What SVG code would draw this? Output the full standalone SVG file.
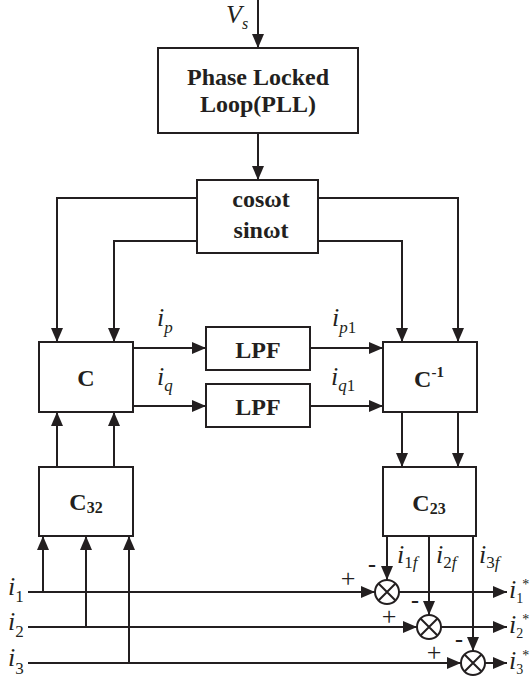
<svg xmlns="http://www.w3.org/2000/svg" width="531" height="685" viewBox="0 0 531 685">
<style>
.box{fill:#fff;stroke:#231f20;stroke-width:2}
.ln{fill:none;stroke:#231f20;stroke-width:2}
.b{font-family:"Liberation Serif","Times New Roman",serif;font-weight:bold;font-size:24px;fill:#231f20;text-anchor:middle}
.it{font-family:"Liberation Serif","Times New Roman",serif;font-style:italic;font-size:26px;fill:#231f20}
.rm{font-style:normal}
.sub{font-size:17px}
.os{font-size:14px;font-style:normal}
.sg{font-family:"Liberation Serif","Times New Roman",serif;font-size:26px;fill:#231f20;text-anchor:middle}
</style>
<defs>
<marker id="ah" markerUnits="userSpaceOnUse" markerWidth="14" markerHeight="12" refX="14" refY="6" orient="auto">
<path d="M0,0 L14,6 L0,12 z" fill="#231f20"/>
</marker>
</defs>
<g id="connectors" class="ln" marker-end="url(#ah)">
<path d="M258,0 V48"/>
<path d="M258,133 V180"/>
<path d="M197,198 H57 V342"/>
<path d="M197,241 H114 V342"/>
<path d="M318,198 H458 V342"/>
<path d="M318,241 H402 V342"/>
<path d="M133,348 H206"/>
<path d="M133,406 H206"/>
<path d="M310,348 H383"/>
<path d="M310,406 H383"/>
<path d="M57,467 V412"/>
<path d="M114,467 V412"/>
<path d="M402,412 V467"/>
<path d="M458,412 V467"/>
<path d="M28,592 H375"/>
<path d="M28,627 H417"/>
<path d="M28,663 H461"/>
<path d="M43,592 V536"/>
<path d="M86,627 V536"/>
<path d="M129,663 V536"/>
<path d="M387,536 V580"/>
<path d="M429,536 V615"/>
<path d="M473,536 V651"/>
<path d="M399,592 H507"/>
<path d="M441,627 H507"/>
<path d="M485,663 H507"/>
</g>
<g id="pll"><rect class="box" x="158" y="48" width="200" height="85"/>
<text class="b" x="258" y="85">Phase Locked</text>
<text class="b" x="258" y="112">Loop(PLL)</text></g>
<g id="trig"><rect class="box" x="197" y="180" width="121" height="73"/>
<text class="b" x="261" y="207">cosωt</text>
<text class="b" x="261" y="238">sinωt</text></g>
<g id="c"><rect class="box" x="39" y="342" width="94" height="70"/>
<text class="b" x="86" y="386">C</text></g>
<g id="lpf1"><rect class="box" x="206" y="327" width="104" height="43"/>
<text class="b" x="258" y="358">LPF</text></g>
<g id="lpf2"><rect class="box" x="206" y="384" width="104" height="43"/>
<text class="b" x="258" y="415">LPF</text></g>
<g id="cinv"><rect class="box" x="383" y="342" width="94" height="70"/>
<text class="b" x="429" y="387">C<tspan font-size="15" dy="-10">-1</tspan></text></g>
<g id="c32"><rect class="box" x="39" y="467" width="94" height="69"/>
<text class="b" x="86" y="510">C<tspan font-size="16" dy="3">32</tspan></text></g>
<g id="c23"><rect class="box" x="383" y="467" width="93" height="69"/>
<text class="b" x="429" y="511">C<tspan font-size="16" dy="3">23</tspan></text></g>
<g id="sum1"><circle class="box" cx="387" cy="592" r="12"/><path class="ln" d="M378.5,583.5 L395.5,600.5 M395.5,583.5 L378.5,600.5"/></g>
<g id="sum2"><circle class="box" cx="429" cy="627" r="12"/><path class="ln" d="M420.5,618.5 L437.5,635.5 M437.5,618.5 L420.5,635.5"/></g>
<g id="sum3"><circle class="box" cx="473" cy="663" r="12"/><path class="ln" d="M464.5,654.5 L481.5,671.5 M481.5,654.5 L464.5,671.5"/></g>
<g id="labels">
<text class="it" x="226" y="23" font-size="24">V<tspan font-size="16" dy="6">s</tspan></text>
<text class="it" x="157" y="326">i<tspan class="sub" dy="7">p</tspan></text>
<text class="it" x="157" y="385">i<tspan class="sub" dy="6">q</tspan></text>
<text class="it" x="332" y="326">i<tspan class="sub" dy="7">p</tspan><tspan class="sub rm">1</tspan></text>
<text class="it" x="331" y="385">i<tspan class="sub" dy="6">q</tspan><tspan class="sub rm">1</tspan></text>
<text class="it" x="8" y="595">i<tspan class="sub rm" dy="7">1</tspan></text>
<text class="it" x="8" y="630">i<tspan class="sub rm" dy="7">2</tspan></text>
<text class="it" x="8" y="666">i<tspan class="sub rm" dy="8">3</tspan></text>
<text class="it" x="397" y="563">i<tspan class="sub rm" dy="5">1</tspan><tspan class="sub">f</tspan></text>
<text class="it" x="436" y="563">i<tspan class="sub rm" dy="5">2</tspan><tspan class="sub">f</tspan></text>
<text class="it" x="479" y="563">i<tspan class="sub rm" dy="5">3</tspan><tspan class="sub">f</tspan></text>
<text class="it" x="509" y="598">i<tspan class="os" dy="5">1</tspan><tspan class="os" dx="-1" dy="-14">*</tspan></text>
<text class="it" x="509" y="633">i<tspan class="os" dy="5">2</tspan><tspan class="os" dx="-1" dy="-14">*</tspan></text>
<text class="it" x="509" y="669">i<tspan class="os" dy="5">3</tspan><tspan class="os" dx="-1" dy="-14">*</tspan></text>
<text class="sg" x="348" y="587">+</text>
<text class="sg" x="389" y="625">+</text>
<text class="sg" x="434" y="661">+</text>
<text class="b" x="372" y="572">-</text>
<text class="b" x="415" y="608">-</text>
<text class="b" x="459" y="647">-</text>
</g>
</svg>
